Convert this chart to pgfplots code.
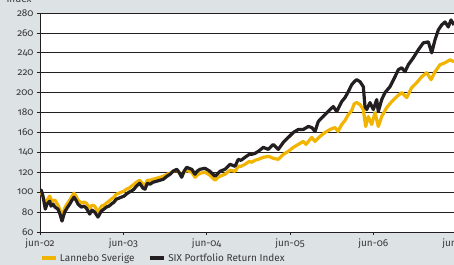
\documentclass[border=0pt]{standalone}
\usepackage{fontspec}
\setmainfont{Fira Sans}[Numbers=OldStyle]
\usepackage{pgfplots}
\usepackage{pgfplotstable}
\pgfplotsset{compat=1.18}
\definecolor{bg}{RGB}{221,226,229}
\definecolor{gold}{RGB}{241,180,0}
\definecolor{ink}{RGB}{35,31,32}
\definecolor{txt}{RGB}{55,55,55}

% x = position in the chart, 83.33 units per year from jun-02
\pgfplotstableread{
x y
0.5 100
1.3 102
3 96
5.3 83
7 88
9.7 91
11 86
13 88
15 85
18 83
20 78
22 71
24.7 80
27 84
29.7 88
32 92
34 95
36 92
38 88
41.3 85
44 86
46.3 84
49.7 78
52 82
54.7 80
56 78
58 75
61.3 81
64 83
66.3 85
69 86
71.3 88
74 90
76.3 93
79 94
81.3 95
84 96
86.3 98
89 100
91.3 101
94 103
96.3 106
99.7 109
103 104
105 103
107.3 109
110 108
113 110
116.7 111
120 112
123.3 113
127 116
130 118
133 121
136.7 123
139 120
141.7 115
144 121
146.7 125
149 124
151.7 123
155 118
157 121
160 123
165 124
170 121
173 118
175 116
178 119
180 121
185 123
190 128
195 126
198.3 133
201 132
205 135
209.3 138
211.7 138
215 139
218.3 141
223.3 145
228.3 143
233.3 148
238.3 143
243.3 150
248.3 155
253.3 160
258.3 163
263.3 163
268.3 166
271.7 165
275 161
278.3 171
282 175
285 178
290 183
293.3 186
296.7 181
301.7 191
305 195
308.3 201
311.7 208
314.3 211
316.7 213
320 211
323.3 206
325 186
326.7 183
330 190
333.3 183
336.7 193
338.3 181
341.7 193
345 200
350 206
355 216
358.3 223
361.7 225
365 221
368.3 228
373.3 235
378.3 243
383.3 250
388.3 251
391.7 240
395 253
398.3 263
401.7 268
405 271
408.3 266
411 273
414 268
}\sixdata

\pgfplotstableread{
x y
0.5 100
2 98
5.3 88
7 92
9.7 96
12 91
15 92
18 87
20 82
22 76
24.7 84
27 88
29.7 92
32 96
34 99
36 96
38 92
41.3 89
44 90
46.3 89
49.7 84
52 87
54.7 86
58 80
61.3 86
64 87
66.3 89
69 91
71.3 93
74 95
76.3 98
79 99
81.3 100
84 101
86.3 103
89 104
91.3 106
94 108
96.3 110
99.7 112
103 108
105 107
107.3 112
110 112
113 113
116.7 114
120 115
123.3 116
127 118
130 119
133 121
136.7 122
139 120
141.7 116
144 120
146.7 122
149 121
151.7 120
155 115
157 117
160 119
165 120
170 117
173 114
175 112
178 115
180 116
185 118
190 122
195 121
198.3 126
201 126
205 128
209.3 131
211.7 130
215 132
218.3 133
223.3 135
228.3 136
233.3 134
238.3 133
243.3 138
248.3 141
253.3 145
258.3 148
263.3 151
266 148
271.7 155
275 151
280 156
285 160
290 163
295 165
298 161
301.7 168
305 172
308.3 178
311.7 182
314.3 189
316.7 190
320 188
323.3 183
325.7 166
328.3 176
331.7 168
335 180
338.3 166
341.7 176
346.7 185
351.7 191
356.7 196
361.7 200
366.7 195
371.7 205
376.7 210
381.7 216
386.7 220
391 213
395 221
400 228
405 230
410 233
414 231
}\lannebo

\begin{document}
\begin{tikzpicture}
\fill[bg] (0,0) rectangle (454bp,265bp);
\begin{axis}[
  at={(40bp,33bp)}, anchor=south west,
  scale only axis, width=416.67bp, height=219bp,
  xmin=0, xmax=416.67, ymin=60, ymax=280,
  axis background/.style={fill=white},
  xtick={0,83.33,166.67,250,333.33,416.67},
  xticklabels={jun-02,jun-03,jun-04,jun-05,jun-06,jun-07},
  ytick={60,80,...,280},
  ymajorgrids, grid style={ink, line width=0.7bp},
  axis lines*=left, axis line style={ink, line width=0.7bp},
  tick style={ink, line width=0.7bp}, tick align=outside, major tick length=3bp,
  tick label style={font=\fontsize{10}{12}\selectfont, text=txt},
  /pgf/number format/assume math mode=true,
  legend style={at={(0,-0.119)}, anchor=west, draw=none, fill=none,
    legend columns=2, inner sep=0pt, font=\fontsize{10}{12}\selectfont, text=txt,
    /tikz/every even column/.append style={column sep=12bp}},
  legend image code/.code={\draw[#1, line width=3.8bp, line cap=butt] (0bp,0bp) -- (14bp,0bp);},
]
\addplot[gold, line width=3.2bp, line join=round] table[x=x, y=y] {\lannebo};
\addlegendentry{Lannebo Sverige}
\addplot[ink, line width=3.2bp, line join=round] table[x=x, y=y] {\sixdata};
\addlegendentry{SIX Portfolio Return Index}
\end{axis}
\node[font=\fontsize{10}{12}\selectfont, text=txt, anchor=base] at (19bp,262bp) {Index};
\pgfresetboundingbox
\useasboundingbox (0,0) rectangle (454bp,265bp);
\end{tikzpicture}
\end{document}
